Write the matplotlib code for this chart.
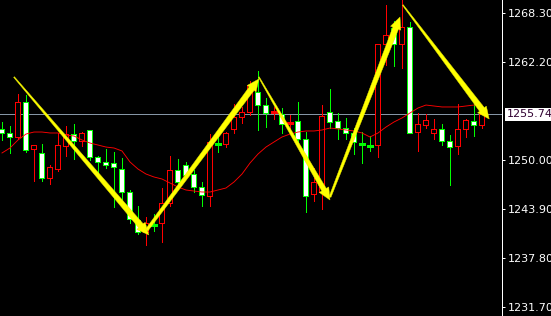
import matplotlib
matplotlib.use("Agg")
import matplotlib.pyplot as plt
from matplotlib.patches import Rectangle, Polygon
from matplotlib.transforms import IdentityTransform, blended_transform_factory
import numpy as np

# ---------------- data ----------------
opens = [1253.8, 1253.4, 1252.9, 1257.2, 1251.4, 1250.9, 1247.7, 1248.9, 1251.7, 1253.2,
         1252.4, 1253.7, 1250.4, 1249.8, 1249.6, 1248.9, 1246.0, 1242.5, 1241.0, 1242.1,
         1242.1, 1244.6, 1248.8, 1249.4, 1248.2, 1246.6, 1245.5, 1252.1, 1252.0, 1253.9,
         1255.4, 1256.0, 1258.5, 1256.9, 1255.9, 1255.7, 1254.6, 1254.8, 1252.6, 1245.8,
         1246.0, 1256.0, 1254.8, 1254.0, 1253.4, 1252.1, 1251.9, 1251.9, 1264.4, 1266.4,
         1264.5, 1266.5, 1253.5, 1254.4, 1253.3, 1253.9, 1252.3, 1251.7, 1253.8, 1254.9,
         1254.3]
highs = [1254.8, 1254.3, 1258.3, 1258.2, 1251.9, 1252.0, 1249.4, 1253.4, 1254.3, 1254.5,
         1253.5, 1253.8, 1250.5, 1251.4, 1251.1, 1250.3, 1246.3, 1244.3, 1243.0, 1243.3,
         1246.6, 1250.6, 1250.2, 1249.8, 1248.8, 1247.3, 1253.3, 1253.0, 1253.5, 1257.0,
         1256.7, 1259.9, 1261.1, 1257.8, 1256.7, 1256.5, 1255.7, 1257.3, 1253.5, 1249.1,
         1256.9, 1258.9, 1255.9, 1255.3, 1254.0, 1253.5, 1253.0, 1264.4, 1269.4, 1267.4,
         1270.0, 1267.2, 1255.9, 1255.8, 1255.2, 1254.5, 1253.2, 1257.0, 1255.2, 1257.0,
         1255.9]
lows = [1252.6, 1250.9, 1252.7, 1251.1, 1247.4, 1247.4, 1247.1, 1248.7, 1250.6, 1250.2,
        1251.8, 1250.1, 1248.4, 1249.1, 1244.2, 1245.1, 1242.2, 1240.8, 1239.5, 1241.2,
        1239.9, 1244.3, 1247.1, 1247.9, 1246.1, 1244.3, 1244.3, 1251.1, 1251.7, 1253.4,
        1254.7, 1255.7, 1253.8, 1254.2, 1255.2, 1253.4, 1253.5, 1252.3, 1243.6, 1245.0,
        1244.0, 1254.0, 1252.7, 1252.7, 1250.8, 1249.7, 1251.2, 1250.4, 1261.9, 1261.8,
        1261.5, 1253.4, 1251.2, 1254.0, 1252.7, 1251.9, 1246.9, 1250.8, 1252.9, 1253.0,
        1254.0]
closes = [1253.3, 1252.9, 1257.2, 1251.3, 1251.8, 1247.7, 1249.1, 1251.8, 1253.2, 1252.4,
          1253.3, 1250.4, 1249.7, 1249.4, 1249.1, 1246.0, 1242.7, 1241.0, 1242.1, 1242.0,
          1244.6, 1248.8, 1247.2, 1248.1, 1246.6, 1245.6, 1252.2, 1252.0, 1253.3, 1255.4,
          1256.0, 1259.3, 1256.8, 1255.9, 1256.0, 1254.5, 1254.7, 1252.6, 1245.5, 1247.3,
          1255.5, 1254.7, 1254.0, 1253.4, 1252.2, 1252.0, 1251.8, 1264.4, 1265.5, 1264.5,
          1266.5, 1253.4, 1254.5, 1255.0, 1253.8, 1252.4, 1251.6, 1253.8, 1255.0, 1254.3,
          1255.7]
ma_values = [1250.93, 1251.55, 1252.55, 1253.29, 1253.54, 1253.54, 1253.42, 1253.42, 1253.17, 1253.04,
             1252.55, 1252.17, 1251.92, 1251.67, 1251.55, 1251.18, 1249.81, 1248.93, 1248.31, 1247.94,
             1247.69, 1247.19, 1246.69, 1246.32, 1246.19, 1246.07, 1246.07, 1246.32, 1246.57, 1247.32,
             1248.31, 1249.68, 1250.80, 1251.67, 1252.30, 1252.92, 1253.29, 1253.54, 1253.67, 1253.67,
             1253.79, 1254.04, 1253.92, 1253.79, 1253.67, 1253.42, 1252.92, 1253.42, 1254.16, 1254.79,
             1255.29, 1255.91, 1256.53, 1256.90, 1256.78, 1256.66, 1256.66, 1256.66, 1256.78, 1256.90,
             1256.90]
tick_values = [1268.30, 1262.20, 1250.00, 1243.90, 1237.80, 1231.70]
tick_labels = ["1268.30", "1262.20", "1250.00", "1243.90", "1237.80", "1231.70"]
current_price = 1255.74
current_label = "1255.74"
# arrows: (bar index, price) start -> end
arrow_starts = [(1.5, 1260.39), (18.1, 1241.34), (32.1, 1260.39), (41.0, 1245.45), (50.1, 1269.36)]
arrow_ends = [(18.35, 1240.72), (32.1, 1260.14), (41.0, 1245.07), (49.75, 1267.86), (60.9, 1255.16)]

# ---------------- style ----------------
W, H = 551, 316
DPI = 100
UP = "#ff0000"
DOWN = "#00ff00"
BG = "#000000"
PX = 72.0 / DPI
arrow_widths = [(0.5, 3.0), (1.5, 3.0), (0.5, 2.6), (1.0, 3.0), (0.5, 3.0)]

fig = plt.figure(figsize=(W / DPI, H / DPI), dpi=DPI, facecolor=BG)
ax_right = 501.5 / W
ax = fig.add_axes([0, 0, ax_right, 1])
ax.set_facecolor(BG)

n = len(opens)
x_left = -0.25
x_right = x_left + 501.5 / 8.0
y_lo, y_hi = 1230.63, 1269.98
ax.set_xlim(x_left, x_right)
ax.set_ylim(y_lo, y_hi)

# size of one pixel in data units
dx_px = (x_right - x_left) / 501.5
dy_px = (y_hi - y_lo) / H

# current price line
ax.axhline(current_price, color="#8595a5", lw=1 * PX, zorder=1)

half = 2.6 * dx_px
for i in range(n):
    o, h, l, c = opens[i], highs[i], lows[i], closes[i]
    up = c >= o
    col = UP if up else DOWN
    ax.vlines(i, l, h, color=col, lw=1 * PX, zorder=2, antialiased=False)
    if abs(c - o) < 0.15:
        ax.hlines(c, i - half, i + half, color=col, lw=1.2 * PX, zorder=3, antialiased=False)
    else:
        face = BG if up else "#ffffff"
        bot = min(o, c) - 0.5 * dy_px
        hgt = abs(c - o) + dy_px
        ax.add_patch(Rectangle((i - half, bot), 2 * half, hgt,
                               facecolor=col, edgecolor="none",
                               zorder=3, antialiased=False))
        if hgt > 2.2 * dy_px:
            ax.add_patch(Rectangle((i - half + dx_px, bot + dy_px),
                                   2 * half - 2 * dx_px, hgt - 2 * dy_px,
                                   facecolor=face, edgecolor="none",
                                   zorder=3.5, antialiased=False))

ax.plot(range(n), ma_values, color="#ff0000", lw=0.9 * PX, zorder=4)


def draw_arrow(start, end, w0, w1, head_len=12.0, head_w=5.5):
    p0 = ax.transData.transform(start)
    p1 = ax.transData.transform(end)
    d = p1 - p0
    L = np.hypot(d[0], d[1])
    u = d / L
    nrm = np.array([-u[1], u[0]])
    base = p1 - u * head_len
    pts = [p0 + nrm * w0, base + nrm * w1, base + nrm * head_w, p1,
           base - nrm * head_w, base - nrm * w1, p0 - nrm * w0]
    ax.add_patch(Polygon(pts, closed=True, transform=IdentityTransform(),
                         facecolor="#ffff00", edgecolor="#e6e600", lw=0.3,
                         zorder=6))


for s, e, (w0, w1) in zip(arrow_starts, arrow_ends, arrow_widths):
    draw_arrow(s, e, w0, w1)

# axes styling
for side in ["left", "top", "bottom"]:
    ax.spines[side].set_visible(False)
ax.spines["right"].set_color("#ffffff")
ax.spines["right"].set_linewidth(1 * PX)
ax.set_xticks([])
ax.yaxis.tick_right()
ax.set_yticks(tick_values)
ax.set_yticklabels(tick_labels)
ax.tick_params(axis="y", colors="#ffffff", length=3 * PX * 1.0, width=1 * PX,
               pad=3 * PX, labelsize=8, direction="out")
for t in ax.get_yticklabels():
    t.set_color("#ffffff")

trans = blended_transform_factory(ax.transAxes, ax.transData)
ax.annotate(current_label, xy=(1.0, current_price), xycoords=trans,
            xytext=(5.5 * PX, 0), textcoords="offset points",
            ha="left", va="center", fontsize=8, color="#300030",
            bbox=dict(boxstyle="square,pad=0.15", facecolor="#ffffff", edgecolor="none"),
            annotation_clip=False, zorder=10)

fig.savefig("out.png", dpi=DPI, facecolor=BG)
